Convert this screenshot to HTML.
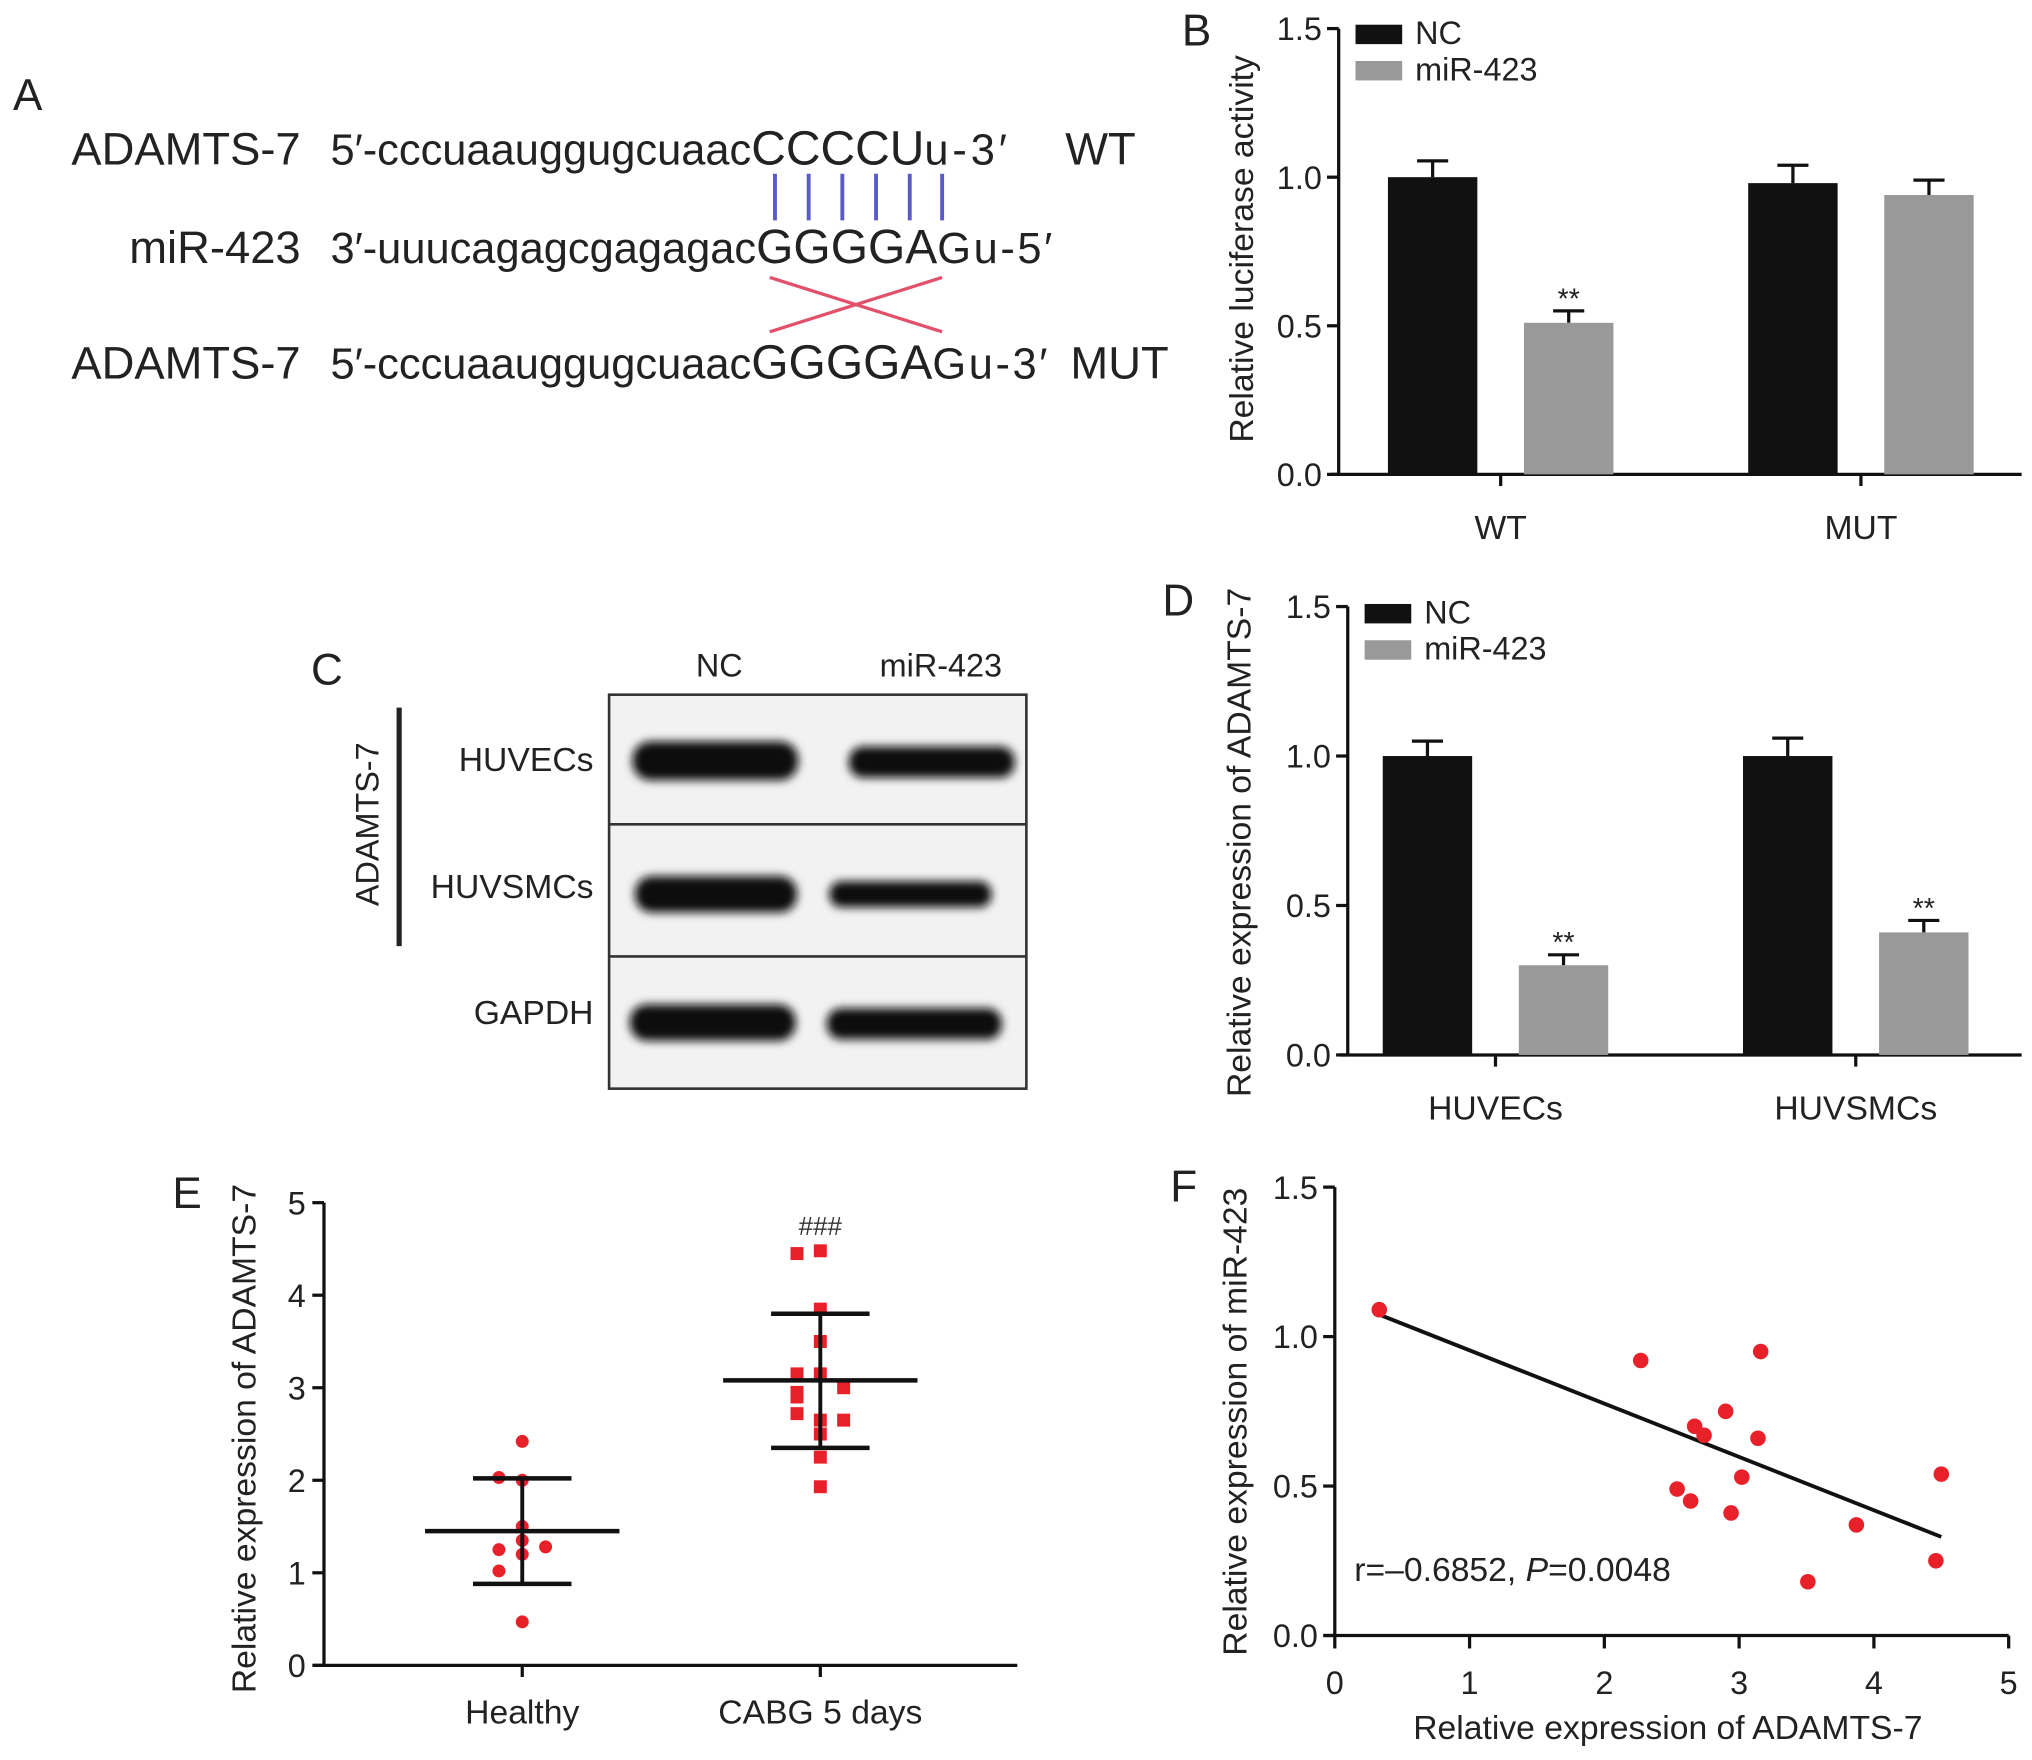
<!DOCTYPE html>
<html><head><meta charset="utf-8"><style>
html,body{margin:0;padding:0;background:#fff;}
svg{display:block;font-family:"Liberation Sans",sans-serif;}
</style></head><body>
<svg id="fig" width="2032" height="1760" viewBox="0 0 1568 1358" xmlns="http://www.w3.org/2000/svg">
<defs>
<filter id="blur" x="-20%" y="-50%" width="140%" height="200%"><feGaussianBlur stdDeviation="3.5"/></filter>
</defs>
<rect width="1568" height="1358" fill="#fff"/>
<g font-size="34" fill="#222">
<text x="10" y="85">A</text><text x="912" y="35">B</text><text x="240" y="528">C</text>
<text x="897" y="475">D</text><text x="133" y="932">E</text><text x="903" y="927">F</text>
</g>
<g fill="#222">
<text x="232" y="127" font-size="35" text-anchor="end">ADAMTS-7</text>
<text x="255" y="127" font-size="33.5">5′-cccuaauggugcuaac<tspan font-size="37">CCCCU</tspan><tspan letter-spacing="3">u-3′</tspan></text>
<text x="822" y="127" font-size="35">WT</text>
<text x="232" y="203" font-size="35" text-anchor="end">miR-423</text>
<text x="255" y="203" font-size="33.5">3′-uuucagagcgagagac<tspan font-size="37">GGGGA</tspan><tspan letter-spacing="2">Gu-5′</tspan></text>
<text x="232" y="292" font-size="35" text-anchor="end">ADAMTS-7</text>
<text x="255" y="292" font-size="33.5">5′-cccuaauggugcuaac<tspan font-size="37">GGGGA</tspan><tspan letter-spacing="2">Gu-3′</tspan></text>
<text x="826" y="292" font-size="35">MUT</text>
<g stroke="#5a5ac8" stroke-width="3">
<line x1="598" y1="134" x2="598" y2="170"/><line x1="624" y1="134" x2="624" y2="170"/>
<line x1="650" y1="134" x2="650" y2="170"/><line x1="676" y1="134" x2="676" y2="170"/>
<line x1="702" y1="134" x2="702" y2="170"/><line x1="727" y1="134" x2="727" y2="170"/>
</g>
<g stroke="#e2506a" stroke-width="2.5">
<line x1="594" y1="256" x2="727" y2="214"/><line x1="594" y1="214" x2="727" y2="256"/>
</g>
</g>
<g fill="#222">
<text x="555" y="522" font-size="25" text-anchor="middle">NC</text>
<text x="726" y="522" font-size="25" text-anchor="middle">miR-423</text>
<text x="458" y="595" font-size="26" text-anchor="end">HUVECs</text>
<text x="458" y="693" font-size="26" text-anchor="end">HUVSMCs</text>
<text x="458" y="790" font-size="26" text-anchor="end">GAPDH</text>
<text transform="translate(292,636) rotate(-90)" font-size="25" text-anchor="middle">ADAMTS-7</text>
<line x1="308" y1="546" x2="308" y2="730" stroke="#222" stroke-width="4"/>
<rect x="470" y="536" width="322" height="304" fill="#f2f2f2" stroke="#333" stroke-width="2"/>
<line x1="470" y1="636" x2="792" y2="636" stroke="#333" stroke-width="2"/>
<line x1="470" y1="738" x2="792" y2="738" stroke="#333" stroke-width="2"/>
<g fill="#111" filter="url(#blur)">
<rect x="488" y="572" width="128" height="30" rx="14"/>
<rect x="655" y="576" width="128" height="24" rx="11"/>
<rect x="490" y="676" width="125" height="28" rx="13"/>
<rect x="640" y="680" width="125" height="20" rx="9"/>
<rect x="486" y="775" width="128" height="28" rx="13"/>
<rect x="638" y="778" width="135" height="24" rx="11"/>
</g>
</g>
<g id="charts"></g>
<script>
const bCats=["WT","MUT"];
const bNC=[1.0,0.98], bNCerr=[0.055,0.06];
const bMiR=[0.51,0.94], bMiRerr=[0.04,0.05];
const bTicks=["0.0","0.5","1.0","1.5"];
const dCats=["HUVECs","HUVSMCs"];
const dNC=[1.0,1.0], dNCerr=[0.05,0.06];
const dMiR=[0.30,0.41], dMiRerr=[0.035,0.04];
const dTicks=["0.0","0.5","1.0","1.5"];
const eCats=["Healthy","CABG 5 days"];
const eHealthy=[2.42,2.0,2.03,1.5,1.35,1.25,1.28,1.2,1.02,0.47];
const eCabg=[4.48,4.45,3.85,3.5,3.15,3.15,3.0,2.9,2.95,2.72,2.65,2.65,2.5,2.25,1.93];
const eMean=[1.45,3.08], eSDlo=[0.88,2.35], eSDhi=[2.02,3.8];
const eTicks=["0","1","2","3","4","5"];
const fX=[0.33,2.27,3.16,2.90,2.67,2.74,3.14,3.02,2.54,2.64,2.94,3.87,4.50,4.46,3.51];
const fY=[1.09,0.92,0.95,0.75,0.70,0.67,0.66,0.53,0.49,0.45,0.41,0.37,0.54,0.25,0.18];
const fFitX=[0.35,4.5], fFitY=[1.07,0.33];
const fXTicks=["0","1","2","3","4","5"], fYTicks=["0.0","0.5","1.0","1.5"];

const NS="http://www.w3.org/2000/svg";
const root=document.getElementById('charts');
function mk(tag,attrs,parent,text){const e=document.createElementNS(NS,tag);for(const k in attrs)e.setAttribute(k,attrs[k]);if(text!==undefined)e.textContent=text;(parent||root).appendChild(e);return e;}
function ln(p,x1,y1,x2,y2,w){return mk('line',{x1,y1,x2,y2,stroke:'#111','stroke-width':w||2.5},p);}

function barPanel(cfg){
  const g=mk('g',{});
  
  
  const y=v=>cfg.y0-(v/1.5)*(cfg.y0-cfg.y1);
  ln(g,cfg.ax,cfg.y1,cfg.ax,cfg.y0);
  ln(g,cfg.ax-6,cfg.y0,cfg.xEnd,cfg.y0);
  cfg.ticks.forEach((t,i)=>{const v=parseFloat(t);ln(g,cfg.ax-9,y(v),cfg.ax,y(v));
    const tl=mk('text',{x:cfg.ax-13,y:y(v)+9,'font-size':25,'text-anchor':'end',fill:'#222'},g,t);
    
    });
  const yt=mk('text',{transform:`translate(${cfg.titleX},${cfg.titleY}) rotate(-90)`,'font-size':26,'text-anchor':'middle',fill:'#222'},g,cfg.title);
  
  
  cfg.cats.forEach((c,i)=>{
    const cx=cfg.catX[i];
    ln(g,cx,cfg.y0,cx,cfg.y0+9);
    const cl=mk('text',{x:cx,y:cfg.y0+50,'font-size':26,'text-anchor':'middle',fill:'#222'},g,c);
    
    
    [[cfg.nc,cfg.ncErr,'#111',-87,'bar-nc'],[cfg.mir,cfg.mirErr,'#999',18,'bar-mir-423']].forEach(([vals,errs,col,off,nm])=>{
      const x0=cx+off,w=69,v=vals[i],e=errs[i];
      const top=y(v+e);
      ln(g,x0+w/2,top,x0+w/2,y(v),2.5);
      ln(g,x0+w/2-12,top,x0+w/2+12,top,2.5);
      const r=mk('rect',{x:x0,y:y(v),width:w,height:cfg.y0-y(v),fill:col},g);
      
      
      if(nm==='bar-mir-423'&&cfg.sig[i]){const s=mk('text',{x:x0+w/2,y:top-2,'font-size':22,'text-anchor':'middle',fill:'#222'},g,'**');
        
        }
    });
  });
  const lg=mk('g',{},g);
  
  
  mk('rect',{x:cfg.lx,y:cfg.ly,width:36,height:15,fill:'#111'},lg);
  mk('text',{x:cfg.lx+46,y:cfg.ly+15,'font-size':25,fill:'#222'},lg,'NC');
  mk('rect',{x:cfg.lx,y:cfg.ly+28,width:36,height:15,fill:'#999'},lg);
  mk('text',{x:cfg.lx+46,y:cfg.ly+43,'font-size':25,fill:'#222'},lg,'miR-423');
}
barPanel({name:'panel-b-luciferase-chart',ax:1033,y0:366,y1:22,xEnd:1560,catX:[1158,1436],cats:bCats,nc:bNC,ncErr:bNCerr,mir:bMiR,mirErr:bMiRerr,ticks:bTicks,sig:[true,false],title:'Relative luciferase activity',titleX:967,titleY:192,lx:1046,ly:19});
barPanel({name:'panel-d-expression-chart',ax:1040,y0:814,y1:468,xEnd:1560,catX:[1154,1432],cats:dCats,nc:dNC,ncErr:dNCerr,mir:dMiR,mirErr:dMiRerr,ticks:dTicks,sig:[true,true],title:'Relative expression of ADAMTS-7',titleX:965,titleY:650,lx:1053,ly:466});

(function(){
  const g=mk('g',{});
  
  
  const ax=250,y0=1285,y1=928;
  const y=v=>y0-(v/5)*(y0-y1);
  ln(g,ax,y1,ax,y0);ln(g,ax-8,y0,785,y0);
  eTicks.forEach(t=>{const v=+t;ln(g,ax-9,y(v),ax,y(v));
    const tl=mk('text',{x:ax-14,y:y(v)+9,'font-size':25,'text-anchor':'end',fill:'#222'},g,t);
    
    });
  const yt=mk('text',{transform:'translate(197,1110) rotate(-90)','font-size':26,'text-anchor':'middle',fill:'#222'},g,'Relative expression of ADAMTS-7');
  
  
  const catX=[403,633];
  const jit=[0,-18,18];
  eCats.forEach((c,i)=>{
    const cx=catX[i];
    ln(g,cx,y0,cx,y0+9);
    const cl=mk('text',{x:cx,y:y0+45,'font-size':26,'text-anchor':'middle',fill:'#222'},g,c);
    
    
    const pts=i===0?eHealthy:eCabg;
    const seen={};
    pts.forEach(v=>{
      const k=Math.round(v*7);let n=0;
      for(const kk in seen){if(Math.abs(kk-k)<=1)n+=seen[kk];}
      seen[k]=(seen[k]||0)+1;
      const px=cx+jit[n%3];
      let d;
      if(i===0){d=mk('circle',{cx:px,cy:y(v),r:5,fill:'#e8202a'},g);}
      else{d=mk('rect',{x:px-5,y:y(v)-5,width:10,height:10,fill:'#e8202a'},g);}
      
      
    });
    ln(g,cx,y(eSDlo[i]),cx,y(eSDhi[i]),3);
    ln(g,cx-38,y(eSDlo[i]),cx+38,y(eSDlo[i]),3.5);
    ln(g,cx-38,y(eSDhi[i]),cx+38,y(eSDhi[i]),3.5);
    ln(g,cx-75,y(eMean[i]),cx+75,y(eMean[i]),3.5);
  });
  const s=mk('text',{x:633,y:953,'font-size':20,'text-anchor':'middle',fill:'#333'},g,'###');
  
  
})();

(function(){
  const g=mk('g',{});
  
  
  const x0=1030,x1=1550,y0=1262,y1=916;
  const X=v=>x0+(v/5)*(x1-x0), Y=v=>y0-(v/1.5)*(y0-y1);
  ln(g,x0,y1,x0,y0);ln(g,x0-8,y0,x1,y0);
  fYTicks.forEach(t=>{const v=+t;ln(g,x0-9,Y(v),x0,Y(v));
    const tl=mk('text',{x:x0-13,y:Y(v)+9,'font-size':25,'text-anchor':'end',fill:'#222'},g,t);
    
    });
  fXTicks.forEach(t=>{const v=+t;ln(g,X(v),y0,X(v),y0+10);
    const tl=mk('text',{x:X(v),y:y0+45,'font-size':25,'text-anchor':'middle',fill:'#222'},g,t);
    
    });
  const yt=mk('text',{transform:'translate(962,1097) rotate(-90)','font-size':26,'text-anchor':'middle',fill:'#222'},g,'Relative expression of miR-423');
  
  
  const xt=mk('text',{x:1287,y:1342,'font-size':26,'text-anchor':'middle',fill:'#222'},g,'Relative expression of ADAMTS-7');
  
  
  const fl=mk('line',{x1:X(fFitX[0]),y1:Y(fFitY[0]),x2:X(fFitX[1]),y2:Y(fFitY[1]),stroke:'#111','stroke-width':3},g);
  
  
  fX.forEach((v,i)=>{const c=mk('circle',{cx:X(v),cy:Y(fY[i]),r:6,fill:'#e8202a'},g);
    
    });
  const st=mk('text',{x:1045,y:1220,'font-size':26,fill:'#222'},g);
  
  
  st.appendChild(document.createTextNode('r=–0.6852, '));
  mk('tspan',{'font-style':'italic'},st,'P');
  st.appendChild(document.createTextNode('=0.0048'));
})();
</script>
</svg>
</body></html>
